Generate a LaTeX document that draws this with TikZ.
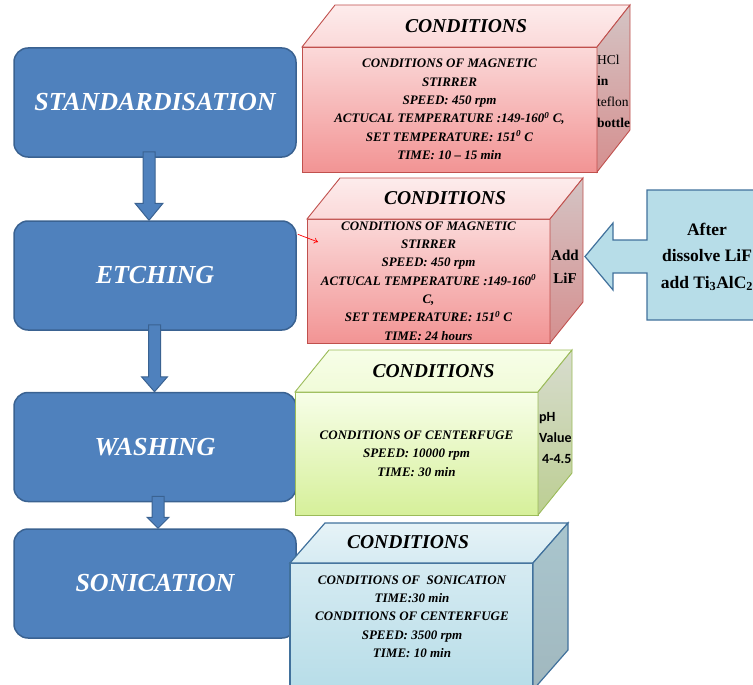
\documentclass[tikz,border=0pt]{standalone}
\usepackage{fontspec}
\setmainfont{Liberation Serif}
\newfontfamily\calibrifont{Carlito}
\usetikzlibrary{calc,arrows.meta,positioning}

\definecolor{stageblue}{HTML}{4F81BD}
\definecolor{stageline}{HTML}{3A6291}
\definecolor{pinkline}{HTML}{C0504D}
\definecolor{pinkA}{HTML}{FBD9D9}
\definecolor{pinkB}{HTML}{F29494}
\definecolor{greenline}{HTML}{9BBB59}
\definecolor{greenA}{HTML}{F7FEE8}
\definecolor{greenB}{HTML}{D6F09A}
\definecolor{cubeblueline}{HTML}{41719C}
\definecolor{blueA}{HTML}{D6EBF2}
\definecolor{blueB}{HTML}{B7DDE8}
\definecolor{calloutfill}{HTML}{B7DDE8}

\tikzset{
  stage/.style={draw=stageline, line width=1.5pt, fill=stageblue, rounded corners=14pt,
    minimum width=282, minimum height=109, inner sep=0pt, text=white,
    font=\bfseries\itshape\fontsize{26}{30}\selectfont},
  front/.style={anchor=north west, inner sep=0pt, outer sep=0pt, line width=0.9pt},
  body/.style={align=center, font=\bfseries\itshape\fontsize{13}{18.3}\selectfont},
  title/.style={font=\bfseries\itshape\fontsize{19.6}{24}\selectfont},
  pinktop/.style={draw=pinkline, line width=0.9pt, top color=pinkA!50!white, bottom color=pinkA},
  pinkside/.style={draw=pinkline, line width=0.9pt, top color=pinkA!60!gray!80, bottom color=pinkB!75!gray},
  greentop/.style={draw=greenline, line width=0.9pt, top color=greenA, bottom color=greenA!80!greenB},
  greenside/.style={draw=greenline, line width=0.9pt, top color=greenA!70!gray!90, bottom color=greenB!70!gray},
  bluetop/.style={draw=cubeblueline, line width=1.2pt, top color=blueA!60!white, bottom color=blueA},
  blueside/.style={draw=cubeblueline, line width=1.2pt, top color=blueB!75!gray, bottom color=blueB!60!gray},
  sidenote/.style={align=left, inner sep=0pt, font=\fontsize{13.5}{21}\selectfont},
}

% block arrow from one stage down to the next
\newcommand{\blockdown}[5]{% from, to, x shift, head half width, head length
  \path[draw=stageline, fill=stageblue, line width=1pt]
    let \p1=(#1.south), \p2=(#2.north) in
    ({\x1+(#3)-6},{\y1+6}) -- ({\x1+(#3)+6},{\y1+6}) -- ({\x1+(#3)+6},{\y2+#5})
    -- ({\x1+(#3)+#4},{\y2+#5}) -- ({\x1+(#3)},{\y2}) -- ({\x1+(#3)-#4},{\y2+#5})
    -- ({\x1+(#3)-6},{\y2+#5}) -- cycle;}

% top and side faces of a box
\newcommand{\cubefaces}[4]{% front node, depth, top style, side style
  \path[#3] (#1.north west) -- ++#2 -- ($(#1.north east)+#2$) -- (#1.north east) -- cycle;
  \path[#4] (#1.north east) -- ++#2 -- ($(#1.south east)+#2$) -- (#1.south east) -- cycle;}

\begin{document}
\begin{tikzpicture}[x=1pt, y=-1pt]
  % frame
  \useasboundingbox (0,0) rectangle (753,685);
  \clip (0,0) rectangle (753,685);

  % stages
  \node[stage] (std) at (155,102.5) {STANDARDISATION};
  \node[stage] (etch) at (155,275.5) {ETCHING};
  \node[stage] (wash) at (155,447) {WASHING};
  \node[stage] (soni) at (155,583.5) {SONICATION};

  % arrows between stages
  \blockdown{std}{etch}{-6}{14}{17}
  \blockdown{etch}{wash}{-0.5}{13}{15}
  \blockdown{wash}{soni}{3}{11}{11}

  % conditions of standardisation
  \node[front, body, draw=pinkline, top color=pinkA, bottom color=pinkB,
    minimum width=295, minimum height=125] (c1) at (302,47)
    {CONDITIONS OF MAGNETIC\\STIRRER\\SPEED: 450 rpm\\
     ACTUCAL TEMPERATURE :149-160\textsuperscript{0} C,\\
     SET TEMPERATURE: 151\textsuperscript{0} C\\TIME: 10 -- 15 min};
  \cubefaces{c1}{(33,-42)}{pinktop}{pinkside}
  \node[title] (t1) at ($(c1.north)+(16.5,-21)$) {CONDITIONS};
  \node[sidenote, anchor=west] (hcl) at ($(c1.north east)+(0,44.5)$)
    {HCl\\\textbf{in}\\teflon\\\textbf{bottle}};

  % conditions of etching
  \node[front, body, draw=pinkline, top color=pinkA, bottom color=pinkB,
    minimum width=243, minimum height=124] (c2) at (307,219)
    {CONDITIONS OF MAGNETIC\\STIRRER\\SPEED: 450 rpm\\
     ACTUCAL TEMPERATURE :149-160\textsuperscript{0}\\C,\\
     SET TEMPERATURE: 151\textsuperscript{0} C\\TIME: 24 hours};
  \cubefaces{c2}{(33,-41)}{pinktop}{pinkside}
  \node[title] (t2) at ($(c2.north)+(16.5,-20.5)$) {CONDITIONS};
  \node[sidenote, align=center, font=\bfseries\fontsize{15}{23}\selectfont] (addlif)
    at ($(c2.north east)+(15,47.5)$) {Add\\LiF};

  % red pointer
  \coordinate (redtail) at ($(etch.north east)+(1,14)$);
  \coordinate (redhead) at ($(c2.north west)+(11,23)$);
  \draw[red, line width=0.7pt, -{To[length=4pt,width=6pt]}] (redtail) -- (redhead);

  % LiF callout
  \path[draw=cubeblueline, fill=calloutfill, line width=1.2pt]
    (647,190) -- (780,190) -- (780,320) -- (647,320) -- (647,273) -- (613,273)
    -- (613,290) -- (585,256.5) -- (613,223) -- (613,240) -- (647,240) -- cycle;
  \node[align=center, inner sep=0pt, font=\bfseries\fontsize{17.5}{26.5}\selectfont] (lif)
    at (707,257) {After\\dissolve LiF\\add Ti\textsubscript{3}AlC\textsubscript{2}};

  % conditions of washing
  \node[front, body, draw=greenline, top color=greenA, bottom color=greenB,
    minimum width=243, minimum height=123] (c3) at (295,392)
    {CONDITIONS OF CENTERFUGE\\SPEED: 10000 rpm\\TIME: 30 min};
  \cubefaces{c3}{(34,-42)}{greentop}{greenside}
  \node[title] (t3) at ($(c3.north)+(17,-21)$) {CONDITIONS};
  \node[sidenote, anchor=west, font=\calibrifont\bfseries\fontsize{14}{21}\selectfont] (ph)
    at ($(c3.north east)+(1,46)$) {pH\\Value\\\hspace*{3pt}4-4.5};

  % conditions of sonication
  \node[front, draw=cubeblueline, line width=1.2pt, top color=blueA, bottom color=blueB,
    minimum width=243, minimum height=127] (c4) at (290,563) {};
  \cubefaces{c4}{(35,-40)}{bluetop}{blueside}
  \node[title] (t4) at ($(c4.north)+(-3.5,-21)$) {CONDITIONS};
  \node[body, anchor=north] (b4) at ($(c4.north)+(0.5,9)$)
    {CONDITIONS OF\ \ SONICATION\\TIME:30 min\\CONDITIONS OF CENTERFUGE\\
     SPEED: 3500 rpm\\TIME: 10 min};
\end{tikzpicture}
\end{document}
